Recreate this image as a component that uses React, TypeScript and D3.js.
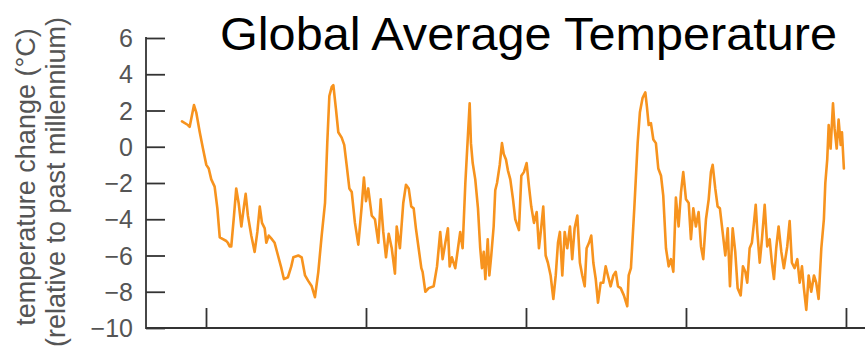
import React, { useEffect, useRef } from "react";
import * as d3 from "d3";

// Age in thousands of years before present
const ageKyr = [
  415.0, 411.3, 410.2, 407.5, 406.1, 403.9, 401.9, 399.8, 398.3, 396.7,
  394.6, 392.9, 391.4, 389.4, 387.3, 386.3, 385.2, 384.2, 382.5, 381.1,
  379.6, 377.9, 376.3, 375.2, 373.8, 371.7, 369.6, 367.9, 366.4, 365.0,
  363.3, 362.3, 360.8, 358.8, 357.1, 355.0, 352.9, 351.3, 348.8, 346.7,
  345.4, 342.3, 340.2, 338.1, 336.1, 333.9, 331.9, 329.8, 327.7, 325.6,
  324.2, 322.9, 321.4, 320.4, 318.8, 317.3, 315.2, 313.6, 312.1, 310.4,
  308.9, 306.9, 304.8, 302.7, 301.3, 300.0, 298.6, 296.4, 294.4, 292.3,
  290.8, 289.2, 287.5, 285.8, 283.9, 281.9, 280.8, 278.8, 276.7, 275.0,
  273.3, 271.7, 270.2, 268.8, 267.1, 265.4, 264.6, 262.9, 260.8, 257.7,
  255.6, 253.6, 252.1, 250.4, 248.8, 247.7, 246.3, 244.2, 242.5, 241.1,
  239.6, 237.9, 236.3, 235.2, 234.4, 233.3, 231.7, 230.0, 228.6, 227.5,
  226.4, 225.4, 223.9, 222.9, 221.7, 220.2, 219.2, 218.1, 216.4, 215.0,
  213.9, 212.5, 211.3, 209.8, 208.1, 206.7, 204.4, 202.9, 201.3, 199.6,
  198.1, 196.7, 195.0, 193.3, 191.9, 190.4, 189.2, 187.7, 186.3, 184.6,
  182.9, 181.4, 180.0, 178.8, 177.3, 175.8, 174.2, 172.5, 171.1, 169.6,
  167.9, 166.3, 164.8, 163.3, 162.1, 160.6, 159.2, 157.9, 156.4, 155.0,
  153.3, 151.7, 150.2, 148.8, 147.1, 145.4, 143.9, 142.5, 140.8, 138.8,
  136.7, 135.8, 134.4, 132.3, 130.2, 128.8, 127.1, 125.4, 124.4, 123.3,
  121.9, 120.4, 118.8, 117.3, 115.6, 114.2, 112.5, 110.8, 109.4, 107.9,
  106.3, 104.6, 103.1, 101.7, 100.0, 98.3, 96.9, 95.4, 93.8, 92.1,
  90.6, 89.2, 87.5, 85.8, 84.4, 83.3, 81.7, 80.2, 78.8, 77.1,
  75.4, 73.9, 72.5, 70.8, 69.2, 67.7, 65.8, 64.4, 62.9, 61.7,
  60.2, 58.8, 57.5, 56.4, 55.4, 53.9, 52.5, 50.8, 49.2, 47.7,
  46.3, 45.0, 43.6, 42.1, 40.4, 38.8, 36.7, 35.2, 33.8, 32.1,
  30.4, 28.9, 27.5, 26.3, 24.8, 23.3, 21.7, 20.0, 18.6, 17.1,
  15.4, 13.8, 12.9, 11.7, 10.8, 9.6, 8.1, 7.1, 5.8, 4.6,
  3.3, 2.5, 1.3,
];

// Temperature change (°C) relative to the past millennium
const tempC = [
  1.4, 1.2, 1.1, 2.3, 1.9, 0.8, -0.1, -1.0, -1.2, -1.8,
  -2.2, -3.4, -5.0, -5.1, -5.2, -5.3, -5.5, -5.5, -3.8, -2.3,
  -3.1, -4.4, -3.3, -2.6, -3.8, -4.9, -5.8, -4.7, -3.3, -4.2,
  -4.5, -5.3, -4.9, -5.1, -5.3, -6.0, -6.7, -7.3, -7.2, -6.6,
  -6.1, -6.0, -6.1, -7.1, -7.4, -7.7, -8.3, -6.9, -4.9, -3.1,
  0.2, 2.8, 3.3, 3.4, 2.1, 0.8, 0.5, 0.1, -1.0, -2.3,
  -2.5, -4.2, -5.4, -3.3, -1.7, -3.0, -2.3, -3.8, -4.0, -5.3,
  -2.9, -4.7, -6.1, -4.8, -5.6, -7.0, -4.4, -5.6, -3.1, -2.1,
  -2.3, -3.3, -3.4, -4.5, -5.6, -6.7, -6.9, -8.0, -7.8, -7.7,
  -6.6, -4.7, -6.2, -5.3, -4.5, -6.6, -6.1, -6.7, -5.6, -4.7,
  -5.6, -2.0, 0.6, 2.4, 0.2, -0.9, -1.8, -3.4, -5.6, -6.7,
  -5.8, -7.3, -5.1, -7.1, -6.0, -4.4, -2.4, -2.0, -1.0, 0.2,
  -0.4, -0.7, -1.3, -1.8, -2.9, -4.0, -4.6, -1.6, -1.4, -0.9,
  -2.2, -3.3, -4.2, -3.6, -5.6, -4.4, -3.3, -6.0, -6.4, -7.1,
  -8.4, -7.1, -5.3, -4.7, -7.1, -4.7, -5.6, -4.4, -6.2, -4.5,
  -3.8, -6.4, -7.1, -7.7, -5.6, -5.3, -4.9, -6.4, -7.3, -8.6,
  -7.5, -7.5, -6.6, -7.1, -7.7, -7.1, -6.9, -7.7, -7.8, -8.2,
  -8.8, -7.1, -6.7, -3.4, 0.2, 1.9, 2.7, 3.0, 2.2, 1.2,
  1.3, 0.4, 0.2, -1.2, -1.6, -2.7, -5.6, -6.6, -6.2, -6.9,
  -2.8, -4.4, -2.5, -1.4, -2.9, -3.1, -5.1, -3.4, -4.4, -3.6,
  -5.5, -6.2, -4.0, -2.9, -1.4, -1.0, -2.3, -3.3, -3.4, -4.7,
  -6.0, -4.5, -7.7, -4.5, -5.8, -7.8, -8.2, -6.6, -6.9, -7.5,
  -5.6, -5.3, -4.2, -3.2, -4.7, -6.4, -5.1, -3.2, -5.5, -5.1,
  -6.4, -7.3, -5.6, -4.4, -5.8, -6.7, -5.5, -4.1, -6.4, -6.7,
  -6.2, -7.5, -6.6, -7.8, -9.0, -7.1, -8.0, -7.1, -7.5, -8.4,
  -5.6, -4.0, -2.0, -0.7, 1.2, -0.1, 2.4, 1.0, -0.1, 1.5,
  0.1, 0.8, -1.2,
];

const yTicks = [6, 4, 2, 0, -2, -4, -6, -8, -10];
const xTicks = [400, 300, 200, 100, 0];

const titleText = "Global Average Temperature";
const yLabelLines = ["temperature change (\u00B0C)", "(relative to past millennium)"];

const W = 865;
const H = 358;
const FONT = "'Liberation Sans', Arial, Helvetica, sans-serif";
const LINE_COLOR = "#f7931e";
const AXIS_COLOR = "#333333";
const LABEL_COLOR = "#555555";

export default function App() {
  const ref = useRef<SVGSVGElement | null>(null);

  useEffect(() => {
    const svg = d3.select(ref.current);
    svg.selectAll("*").remove();

    const left = 146;
    const bottom = 328;
    const top = 38;

    const x = d3.scaleLinear().domain([437.5, -11.9]).range([left, W]);
    const y = d3.scaleLinear().domain([-10, 6]).range([bottom, top]);

    const g = svg.append("g");

    // y axis: ticks point inward (to the right)
    const yAxis = d3
      .axisRight(y)
      .tickValues(yTicks)
      .tickSize(19)
      .tickFormat(() => "");
    const ya = g.append("g").attr("transform", `translate(${left},0)`).call(yAxis);
    ya.select(".domain").remove();
    ya.selectAll("line").attr("stroke", AXIS_COLOR).attr("stroke-width", 1.8);
    g.append("line")
      .attr("x1", left)
      .attr("x2", left)
      .attr("y1", y(6) - 0.9)
      .attr("y2", bottom + 0.9)
      .attr("stroke", AXIS_COLOR)
      .attr("stroke-width", 1.8);

    // y tick labels
    g.selectAll("text.ylab")
      .data(yTicks)
      .join("text")
      .attr("class", "ylab")
      .attr("x", 133)
      .attr("y", (d) => y(d))
      .attr("dy", "0.36em")
      .attr("text-anchor", "end")
      .attr("font-family", FONT)
      .attr("font-size", 25)
      .attr("fill", LABEL_COLOR)
      .text((d) => (d < 0 ? "\u2212" + Math.abs(d) : String(d)));

    // x axis: ticks point upward, unlabeled
    const xAxis = d3
      .axisTop(x)
      .tickValues(xTicks)
      .tickSize(20)
      .tickFormat(() => "");
    const xa = g.append("g").attr("transform", `translate(0,${bottom})`).call(xAxis);
    xa.select(".domain").remove();
    xa.selectAll("line").attr("stroke", AXIS_COLOR).attr("stroke-width", 1.8);
    g.append("line")
      .attr("x1", left)
      .attr("x2", W)
      .attr("y1", bottom)
      .attr("y2", bottom)
      .attr("stroke", AXIS_COLOR)
      .attr("stroke-width", 1.8);

    // temperature series
    const pts = ageKyr.map((a, i) => [a, tempC[i]] as [number, number]);
    const line = d3
      .line<[number, number]>()
      .x((d) => x(d[0]))
      .y((d) => y(d[1]));
    g.append("path")
      .attr("d", line(pts))
      .attr("fill", "none")
      .attr("stroke", LINE_COLOR)
      .attr("stroke-width", 2.6)
      .attr("stroke-linejoin", "round")
      .attr("stroke-linecap", "round");

    // title
    g.append("text")
      .attr("x", 220)
      .attr("y", 50)
      .attr("font-family", FONT)
      .attr("font-size", 47)
      .attr("textLength", 617)
      .attr("lengthAdjust", "spacingAndGlyphs")
      .attr("fill", "#000")
      .text(titleText);

    // y axis label (two rotated lines)
    const labelX = [35, 65];
    const labelY = [177, 182];
    yLabelLines.forEach((t, i) => {
      g.append("text")
        .attr("transform", `translate(${labelX[i]},${labelY[i]}) rotate(-90)`)
        .attr("text-anchor", "middle")
        .attr("font-family", FONT)
        .attr("font-size", 27)
        .attr("fill", LABEL_COLOR)
        .text(t);
    });
  }, []);

  return (
    <svg
      ref={ref}
      width={W}
      height={H}
      style={{ position: "absolute", left: 0, top: 0, background: "#fff" }}
    />
  );
}
